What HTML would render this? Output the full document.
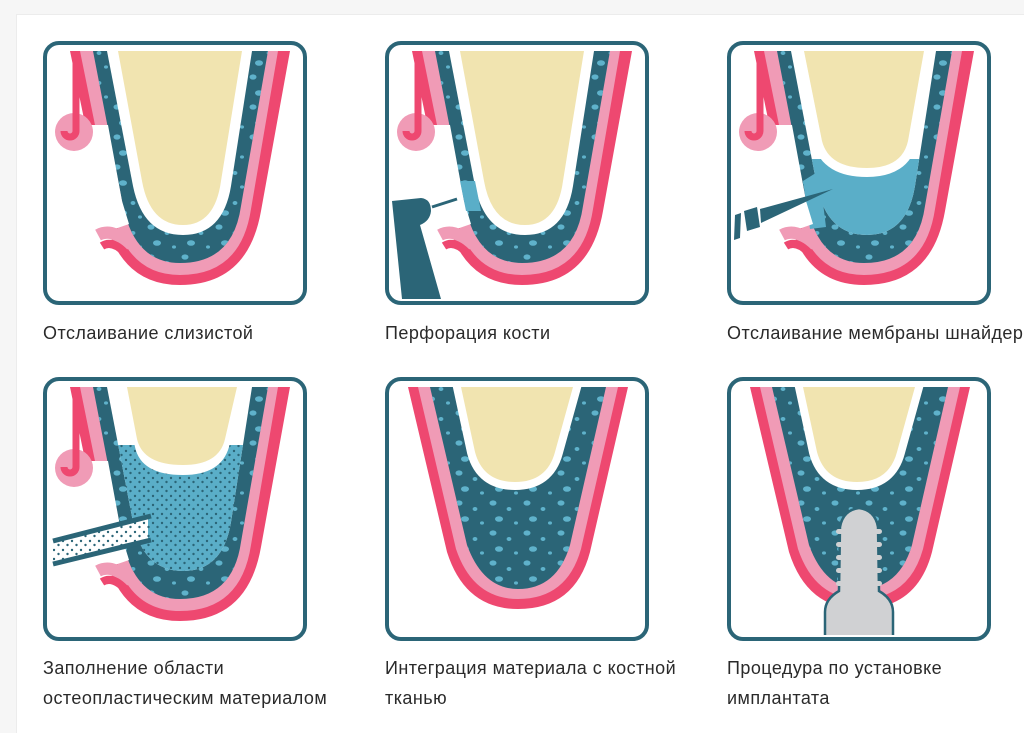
<!DOCTYPE html>
<html><head><meta charset="utf-8"><style>
html,body{margin:0;padding:0}
body{width:1024px;height:733px;background:#f6f6f6;position:relative;overflow:hidden;font-family:"Liberation Sans",sans-serif}
.card{position:absolute;left:16px;top:14px;right:0;bottom:0;background:#fff;border-left:1px solid #ececec;border-top:1px solid #ececec}
svg.p{position:absolute;width:264px;height:266px}
.t{position:absolute;font-size:18px;letter-spacing:0.45px;color:#2a2a2a;line-height:30px;white-space:nowrap}
</style></head><body>
<div class="card"></div>
<svg width="0" height="0" style="position:absolute">
<defs>
<pattern id="bub" width="34" height="30" patternUnits="userSpaceOnUse">
<ellipse cx="6" cy="6" rx="3.5" ry="2.6" fill="#5fb2cb"/>
<ellipse cx="22" cy="12" rx="2.4" ry="2" fill="#5fb2cb"/>
<ellipse cx="12" cy="22" rx="4" ry="2.8" fill="#5fb2cb"/>
<ellipse cx="29" cy="26" rx="2" ry="1.6" fill="#5fb2cb"/>
</pattern>
<pattern id="dots" width="9" height="9" patternUnits="userSpaceOnUse">
<circle cx="2" cy="2" r="1.2" fill="#2b6577"/>
<circle cx="6.5" cy="6" r="1.2" fill="#2b6577"/>
</pattern>
<clipPath id="ic"><rect x="5" y="10" width="254" height="248" rx="10"/></clipPath>
<clipPath id="low3"><rect x="0" y="118" width="264" height="150"/></clipPath>
<clipPath id="low4"><rect x="0" y="68" width="264" height="200"/></clipPath>
<path id="rA" d="M27,10 L60,170 Q75,244 137,244 Q205,244 218,170 L247,10 Z"/>
<path id="pA" d="M37,10 L69,168 Q83,234 137,234 Q198,234 208,168 L235,10 Z"/>
<path id="tA" d="M50,10 L80,165 Q92,222 137,222 Q190,222 198,165 L225,10 Z"/>
<path id="cA" d="M64,10 L90,145 Q100,194 140,194 Q180,194 188,145 L209,10 Z"/>
<path id="yA" d="M75,10 L99,140 Q107,184 140,184 Q172,184 178,140 L199,10 Z"/>
<path id="ysA" d="M77,10 L95,100 Q102,127 140,127 Q175,127 181,100 L197,10 Z"/>
<path id="rB" d="M23,10 L62,175 Q80,232 133,232 Q190,232 205,175 L243,10 Z"/>
<path id="pB" d="M33,10 L71,172 Q88,222 133,222 Q182,222 196,172 L233,10 Z"/>
<path id="tB" d="M45,10 L82,168 Q98,212 133,212 Q172,212 185,168 L221,10 Z"/>
<path id="yB" d="M76,10 L90,75 Q98,105 130,105 Q162,105 170,75 L188,10 Z"/>
<g id="hook">
<polygon points="0,84 65,84 79,160 86,183 60,192 0,192" fill="#fff"/>
<circle cx="31" cy="91" r="19" fill="#f09bb6"/>
<path d="M33,10 L33,90 A6,6 0 0 1 21,90" stroke="#ee4870" stroke-width="7" fill="none"/>
<path d="M55,194 Q70,186 88,205" stroke="#f09bb6" stroke-width="12" fill="none"/>
<path d="M59,205 Q70,198 84,214" stroke="#ee4870" stroke-width="8" fill="none"/>
</g>
</defs></svg>

<!-- Panel 1 -->
<svg class="p" style="left:43px;top:41px" viewBox="0 0 264 266">
<rect x="2" y="2" width="260" height="260" rx="14" fill="#fff" stroke="#2b6577" stroke-width="4"/>
<g clip-path="url(#ic)">
<use href="#rA" fill="#ee4870"/><use href="#pA" fill="#f09bb6"/>
<use href="#tA" fill="#2b6577"/><use href="#tA" fill="url(#bub)"/>
<use href="#cA" fill="#fff"/><use href="#yA" fill="#f1e4b0"/>
<use href="#hook"/>
</g></svg>

<!-- Panel 2 -->
<svg class="p" style="left:385px;top:41px" viewBox="0 0 264 266">
<rect x="2" y="2" width="260" height="260" rx="14" fill="#fff" stroke="#2b6577" stroke-width="4"/>
<g clip-path="url(#ic)">
<use href="#rA" fill="#ee4870"/><use href="#pA" fill="#f09bb6"/>
<use href="#tA" fill="#2b6577"/><use href="#tA" fill="url(#bub)"/>
<use href="#cA" fill="#fff"/><use href="#yA" fill="#f1e4b0"/>
<use href="#hook"/>
<polygon points="75,140 90,140 96,170 81,170" fill="#5aaec8"/>
<path d="M7,160 L36,157 Q46,158 46,170 Q45,180 35,184 L56,258 L17,258 Z" fill="#2b6577"/>
<line x1="47" y1="166" x2="72" y2="158" stroke="#2b6577" stroke-width="3"/>
</g></svg>

<!-- Panel 3 -->
<svg class="p" style="left:727px;top:41px" viewBox="0 0 264 266">
<rect x="2" y="2" width="260" height="260" rx="14" fill="#fff" stroke="#2b6577" stroke-width="4"/>
<g clip-path="url(#ic)">
<use href="#rA" fill="#ee4870"/><use href="#pA" fill="#f09bb6"/>
<use href="#tA" fill="#2b6577"/><use href="#tA" fill="url(#bub)"/>
<use href="#cA" fill="#fff"/>
<g clip-path="url(#low3)"><use href="#cA" fill="#5aaec8"/></g>
<polygon points="76,140 92,130 99,186 83,188" fill="#5aaec8"/>
<use href="#ysA" fill="#fff" stroke="#fff" stroke-width="18"/>
<use href="#ysA" fill="#f1e4b0"/>
<use href="#hook"/>
<polygon points="8,174 14,172 13,197 7,199" fill="#2b6577"/>
<polygon points="17,170 30,166 33,186 20,190" fill="#2b6577"/>
<polygon points="33,168 106,148 34,182" fill="#2b6577"/>
</g></svg>

<!-- Panel 4 -->
<svg class="p" style="left:43px;top:377px" viewBox="0 0 264 266">
<rect x="2" y="2" width="260" height="260" rx="14" fill="#fff" stroke="#2b6577" stroke-width="4"/>
<g clip-path="url(#ic)">
<use href="#rA" fill="#ee4870"/><use href="#pA" fill="#f09bb6"/>
<use href="#tA" fill="#2b6577"/><use href="#tA" fill="url(#bub)"/>
<use href="#cA" fill="#fff"/>
<g clip-path="url(#low4)"><use href="#cA" fill="#5aaec8"/><use href="#cA" fill="url(#dots)"/></g>
<path d="M80,10 L92,70 Q98,98 140,98 Q178,98 186,70 L200,10 Z" fill="#fff"/>
<path d="M84,10 L94,62 Q100,88 140,88 Q176,88 182,62 L194,10 Z" fill="#f1e4b0"/>
<use href="#hook"/>
<polygon points="10,165 105,141 105,162 10,186" fill="#fff"/>
<polygon points="10,165 105,141 105,162 10,186" fill="url(#dots)"/>
<line x1="10" y1="164" x2="108" y2="139" stroke="#2b6577" stroke-width="5"/>
<line x1="10" y1="187" x2="108" y2="163" stroke="#2b6577" stroke-width="5"/>
</g></svg>

<!-- Panel 5 -->
<svg class="p" style="left:385px;top:377px" viewBox="0 0 264 266">
<rect x="2" y="2" width="260" height="260" rx="14" fill="#fff" stroke="#2b6577" stroke-width="4"/>
<g clip-path="url(#ic)">
<use href="#rB" fill="#ee4870"/><use href="#pB" fill="#f09bb6"/>
<use href="#tB" fill="#2b6577"/><use href="#tB" fill="url(#bub)"/>
<use href="#yB" fill="#fff" stroke="#fff" stroke-width="16"/>
<use href="#yB" fill="#f1e4b0"/>
</g></svg>

<!-- Panel 6 -->
<svg class="p" style="left:727px;top:377px" viewBox="0 0 264 266">
<rect x="2" y="2" width="260" height="260" rx="14" fill="#fff" stroke="#2b6577" stroke-width="4"/>
<g clip-path="url(#ic)">
<use href="#rB" fill="#ee4870"/><use href="#pB" fill="#f09bb6"/>
<use href="#tB" fill="#2b6577"/><use href="#tB" fill="url(#bub)"/>
<use href="#yB" fill="#fff" stroke="#fff" stroke-width="16"/>
<use href="#yB" fill="#f1e4b0"/>
<path d="M98,262 L98,235 Q98,222 112,214 L113,150 Q116,133 132,131 Q148,133 151,150 L152,214 Q166,222 166,235 L166,262 Z" fill="#d0d1d3" stroke="#2b6577" stroke-width="2.5"/>
<g fill="#d0d1d3">
<rect x="109" y="152" width="46" height="5" rx="2.5"/><rect x="109" y="165" width="46" height="5" rx="2.5"/>
<rect x="109" y="178" width="46" height="5" rx="2.5"/><rect x="109" y="191" width="46" height="5" rx="2.5"/>
<rect x="109" y="204" width="46" height="5" rx="2.5"/>
</g>
</g></svg>

<div class="t" style="left:43px;top:318px">Отслаивание слизистой</div>
<div class="t" style="left:385px;top:318px">Перфорация кости</div>
<div class="t" style="left:727px;top:318px">Отслаивание мембраны шнайдера</div>
<div class="t" style="left:43px;top:653px">Заполнение области<br>остеопластическим материалом</div>
<div class="t" style="left:385px;top:653px">Интеграция материала с костной<br>тканью</div>
<div class="t" style="left:727px;top:653px">Процедура по установке<br>имплантата</div>
</body></html>
